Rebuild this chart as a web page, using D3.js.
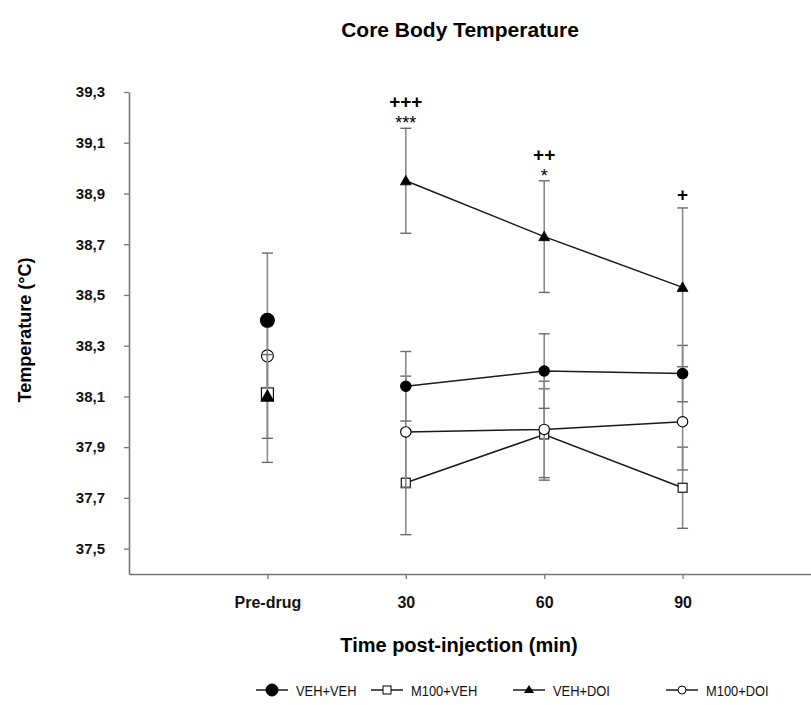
<!DOCTYPE html>
<html>
<head>
<meta charset="utf-8">
<script src="https://cdn.jsdelivr.net/npm/d3@7"></script>
<style>
  body { margin: 0; background: #fff; }
  svg text { font-family: "Liberation Sans", Arial, sans-serif; }
</style>
</head>
<body>
<svg id="chart" width="811" height="705"></svg>
<script>
// time points (index 0 = pre-drug baseline)
var categories = ["Pre-drug", "30", "60", "90"];
var yTicks = [37.5, 37.7, 37.9, 38.1, 38.3, 38.5, 38.7, 38.9, 39.1, 39.3];

// means and SEM
var vehVeh     = [38.40, 38.14, 38.20, 38.19];
var vehVehErr  = [0.265, 0.137, 0.147, 0.111];
var m100Veh    = [38.11, 37.76, 37.95, 37.74];
var m100VehErr = [0.27, 0.205, 0.18, 0.16];
var vehDoi     = [38.10, 38.95, 38.73, 38.53];
var vehDoiErr  = [0.165, 0.207, 0.22, 0.313];
var m100Doi    = [38.26, 37.96, 37.97, 38.00];
var m100DoiErr = [0.005, 0.22, 0.19, 0.19];

// significance marks above VEH+DOI
var plusMarks = ["", "+++", "++", "+"];
var starMarks = ["", "***", "*", ""];

var series = [
    {name: "VEH+VEH",  values: vehVeh,  err: vehVehErr,  shape: "circle",   fill: "#000"},
    {name: "M100+VEH", values: m100Veh, err: m100VehErr, shape: "square",   fill: "#fff"},
    {name: "VEH+DOI",  values: vehDoi,  err: vehDoiErr,  shape: "triangle", fill: "#000"},
    {name: "M100+DOI", values: m100Doi, err: m100DoiErr, shape: "circle",   fill: "#fff"}
];
// drawing order
var drawOrder = [1, 3, 0, 2];

var svg = d3.select("#chart");

var x = d3.scaleLinear().domain([-1, 4]).range([129, 821]);
var y = d3.scaleLinear().domain([37.4, 39.3]).range([574, 92]);

var axisColor = "#777";

// y axis
var yAxis = d3.axisLeft(y)
    .tickValues(yTicks)
    .tickSize(5)
    .tickSizeOuter(0)
    .tickPadding(19)
    .tickFormat(function (d) { return d3.format(".1f")(d).replace(".", ","); });

var gy = svg.append("g").attr("transform", "translate(" + x(-1) + ",0)").call(yAxis);
gy.select(".domain").attr("stroke", axisColor).attr("stroke-width", 1.6);
gy.selectAll(".tick line").attr("stroke", axisColor).attr("stroke-width", 1.3);
gy.selectAll("text").attr("font-size", 15).attr("font-weight", "bold").attr("fill", "#111");

// x axis
var xAxis = d3.axisBottom(x)
    .tickValues([0, 1, 2, 3])
    .tickSize(5)
    .tickSizeOuter(0)
    .tickPadding(18)
    .tickFormat(function (i) { return categories[i]; });

var gx = svg.append("g").attr("transform", "translate(0," + y(37.4) + ")").call(xAxis);
gx.select(".domain").attr("stroke", axisColor).attr("stroke-width", 1.6);
gx.selectAll(".tick line").attr("stroke", axisColor).attr("stroke-width", 1.3);
gx.selectAll("text").attr("font-size", 16).attr("font-weight", "bold").attr("fill", "#111");

// titles
svg.append("text")
    .attr("x", 460).attr("y", 37)
    .attr("text-anchor", "middle")
    .attr("font-size", 21).attr("font-weight", "bold")
    .text("Core Body Temperature");

svg.append("text")
    .attr("transform", "translate(31,330) rotate(-90)")
    .attr("text-anchor", "middle")
    .attr("font-size", 18).attr("font-weight", "bold")
    .text("Temperature (\u00B0C)");

svg.append("text")
    .attr("x", 459).attr("y", 652)
    .attr("text-anchor", "middle")
    .attr("font-size", 20).attr("font-weight", "bold")
    .text("Time post-injection (min)");

function drawMarker(g, shape, fill, cx, cy, big) {
    if (shape === "circle") {
        var r = big ? (fill === "#000" ? 7 : 6) : 5.2;
        g.append("circle").attr("cx", cx).attr("cy", cy).attr("r", r)
            .attr("fill", fill).attr("stroke", "#000").attr("stroke-width", 1.1);
    } else if (shape === "square") {
        var s = big ? 12 : 9;
        g.append("rect").attr("x", cx - s / 2).attr("y", cy - s / 2)
            .attr("width", s).attr("height", s)
            .attr("fill", fill).attr("stroke", "#000").attr("stroke-width", 1.1);
    } else {
        var h = big ? 11 : 9;
        g.append("path")
            .attr("d", "M" + cx + "," + (cy - h * 0.6) + "L" + (cx + h * 0.6) + "," + (cy + h * 0.45) +
                "L" + (cx - h * 0.6) + "," + (cy + h * 0.45) + "Z")
            .attr("fill", fill).attr("stroke", "#000").attr("stroke-width", 0.8);
    }
}

var plot = svg.append("g");
var line = d3.line()
    .x(function (d) { return x(d.i); })
    .y(function (d) { return y(d.v); });

drawOrder.forEach(function (k) {
    var s = series[k];
    var g = plot.append("g");
    var pts = s.values.map(function (v, i) { return {i: i, v: v, e: s.err[i]}; });

    // error bars
    pts.forEach(function (p) {
        var cx = x(p.i), y0 = y(p.v - p.e), y1 = y(p.v + p.e);
        g.append("line").attr("x1", cx).attr("x2", cx).attr("y1", y0).attr("y2", y1)
            .attr("stroke", "#8a8a8a").attr("stroke-width", 1.6);
        [y0, y1].forEach(function (yy) {
            g.append("line").attr("x1", cx - 5.5).attr("x2", cx + 5.5).attr("y1", yy).attr("y2", yy)
                .attr("stroke", "#6a6a6a").attr("stroke-width", 1.4);
        });
    });

    // connecting line (post-injection only)
    g.append("path")
        .datum(pts.slice(1))
        .attr("d", line)
        .attr("fill", "none")
        .attr("stroke", "#1a1a1a")
        .attr("stroke-width", 1.5);

    pts.forEach(function (p) {
        drawMarker(g, s.shape, s.fill, x(p.i), y(p.v), p.i === 0);
    });
});

// significance annotations
var ann = svg.append("g");
vehDoi.forEach(function (v, i) {
    var top = y(v + vehDoiErr[i]);
    if (plusMarks[i]) {
        ann.append("text")
            .attr("x", x(i)).attr("y", top - (starMarks[i] ? 20 : 7))
            .attr("text-anchor", "middle")
            .attr("font-size", 19).attr("font-weight", "bold")
            .text(plusMarks[i]);
    }
    if (starMarks[i]) {
        ann.append("text")
            .attr("x", x(i)).attr("y", top + 1)
            .attr("text-anchor", "middle")
            .attr("font-size", 18)
            .text(starMarks[i]);
    }
});

// legend
var legendX = [256, 371, 513, 666];
var legend = svg.append("g").attr("transform", "translate(0,690)");
series.forEach(function (s, k) {
    var lx = legendX[k];
    var g = legend.append("g");
    g.append("line").attr("x1", lx).attr("x2", lx + 32).attr("y1", 0).attr("y2", 0)
        .attr("stroke", "#1a1a1a").attr("stroke-width", 1.5);
    var small = (k === 1 || k === 3);
    if (s.shape === "circle") {
        g.append("circle").attr("cx", lx + 16).attr("cy", 0).attr("r", small ? 4 : 6)
            .attr("fill", s.fill).attr("stroke", "#000").attr("stroke-width", 1);
    } else if (s.shape === "square") {
        g.append("rect").attr("x", lx + 12).attr("y", -4).attr("width", 8).attr("height", 8)
            .attr("fill", "#fff").attr("stroke", "#000").attr("stroke-width", 1);
    } else {
        g.append("path").attr("d", "M" + (lx + 16) + ",-5L" + (lx + 21) + ",3L" + (lx + 11) + ",3Z")
            .attr("fill", "#000");
    }
    // narrow-looking legend labels
    g.append("text")
        .attr("transform", "translate(" + (lx + 40) + ",6) scale(0.86,1)")
        .attr("font-size", 15).attr("fill", "#111")
        .text(s.name);
});
</script>
</body>
</html>
